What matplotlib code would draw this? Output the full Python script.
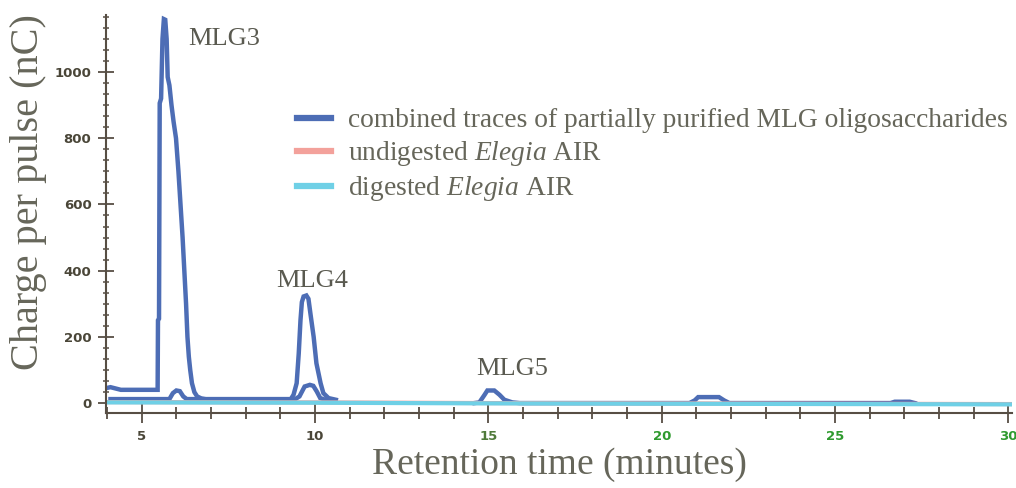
import matplotlib
matplotlib.use("Agg")
import matplotlib.pyplot as plt
from matplotlib.ticker import MultipleLocator

plt.rcParams["mathtext.fontset"] = "custom"
plt.rcParams["mathtext.rm"] = "Liberation Serif"
plt.rcParams["mathtext.it"] = "Liberation Serif:italic"

# Retention time (min) and detector response (nC) for each trace
mlg3_time = [3.97, 4.1, 4.4, 5.46, 5.47, 5.50, 5.52, 5.56, 5.60, 5.64, 5.68, 5.72,
             5.75, 5.80, 5.86, 5.92, 5.99, 6.06, 6.12, 6.18, 6.23, 6.28, 6.32,
             6.36, 6.40, 6.45, 6.52, 6.60, 6.72, 6.88, 7.05, 9.40, 9.55, 9.70,
             9.85, 9.95, 10.05, 10.15, 10.30, 10.50]
mlg3_resp = [45, 48, 40, 40, 250, 255, 906, 920, 1100, 1160, 1158, 1100,
             985, 960, 900, 850, 800, 700, 600, 500, 400, 300, 200,
             140, 100, 60, 33, 20, 14, 11, 10, 10, 20, 50,
             55, 52, 35, 15, 10, 9]

mlg4_time = [4.1, 5.8, 5.9, 6.0, 6.1, 6.2, 6.3, 9.30, 9.38, 9.47, 9.53, 9.58,
             9.62, 9.67, 9.75, 9.81, 9.87, 9.96, 10.04, 10.16, 10.24, 10.39, 10.6]
mlg4_resp = [12, 12, 30, 38, 36, 20, 12, 12, 25, 60, 150, 250,
             305, 322, 325, 315, 268, 200, 120, 60, 30, 15, 10]

mlg5_time = [14.6, 14.74, 14.89, 14.97, 15.17, 15.32, 15.46, 15.69, 15.9,
             20.8, 20.95, 21.05, 21.65, 21.8, 21.95, 26.6, 26.72, 27.15, 27.3]
mlg5_resp = [0, 2, 25, 38, 38, 25, 10, 2, 0,
             0, 8, 18, 18, 8, 0, 0, 4, 4, 0]

air_time = [3.97, 10.0, 15.0, 20.0, 25.0, 30.1]
undigested_resp = [3, 2, 0, -1, -2, -3]
digested_resp = [2, 1, -1, -2, -3, -4]

x_ticks = [5, 10, 15, 20, 25, 30]
x_tick_colors = ["#4a4638", "#4a4638", "#4f7a3a", "#2f9a2f", "#2f9a2f", "#2f9a2f"]
y_ticks = [0, 200, 400, 600, 800, 1000]

peak_names = ["MLG3", "MLG4", "MLG5"]
peak_label_x = [6.35, 8.87, 14.66]
peak_label_y = [1082, 350, 85]

BLUE = "#4d6db5"
RED = "#f3a19b"
CYAN = "#6fd0e6"
AXIS = "#574e44"
TEXT = "#66665a"

fig = plt.figure(figsize=(10.16, 4.88), dpi=100)
ax = fig.add_axes([0.1043, 0.1537, 0.8917, 0.8153])

lw = 3.2
h_comb, = ax.plot(mlg3_time, mlg3_resp, color=BLUE, lw=lw, solid_joinstyle="miter")
ax.plot(mlg4_time, mlg4_resp, color=BLUE, lw=lw, solid_joinstyle="miter")
ax.plot(mlg5_time, mlg5_resp, color=BLUE, lw=lw, solid_joinstyle="miter")
h_und, = ax.plot(air_time, undigested_resp, color=RED, lw=3.0)
h_dig, = ax.plot(air_time, digested_resp, color=CYAN, lw=3.0)

ax.set_xlim(3.97, 30.1)
ax.set_ylim(-30, 1172)

for side in ("top", "right"):
    ax.spines[side].set_visible(False)
for side in ("left", "bottom"):
    ax.spines[side].set_color(AXIS)
    ax.spines[side].set_linewidth(1.5)

ax.set_xticks(x_ticks)
ax.xaxis.set_minor_locator(MultipleLocator(1))
ax.set_yticks(y_ticks)
ax.yaxis.set_minor_locator(MultipleLocator(200 / 6))

ax.tick_params(axis="x", which="major", direction="inout", length=15, width=1.3,
               color=AXIS, pad=4.5, labelsize=9.5)
ax.tick_params(axis="x", which="minor", direction="inout", length=9, width=1.3,
               color=AXIS)
ax.tick_params(axis="y", which="major", direction="inout", length=11, width=1.3,
               color=AXIS, pad=5, labelsize=9.5, labelcolor="#4a4638")
ax.tick_params(axis="y", which="minor", direction="inout", length=5, width=1.1,
               color=AXIS)

for lab in ax.get_yticklabels():
    lab.set_fontweight("bold")
for lab, col in zip(ax.get_xticklabels(), x_tick_colors):
    lab.set_fontweight("bold")
    lab.set_color(col)

ax.set_xlabel("Retention time (minutes)", fontsize=27, family="Liberation Serif",
              color=TEXT, va="center")
ax.xaxis.set_label_coords(0.5, -0.131)
ax.set_ylabel("Charge per pulse (nC)", fontsize=29, family="Liberation Serif",
              color=TEXT, va="center")
ax.yaxis.set_label_coords(-0.085, 0.555)

for name, px, py in zip(peak_names, peak_label_x, peak_label_y):
    ax.text(px, py, name, fontsize=19, family="Liberation Serif", color="#5a5a50",
            ha="left", va="baseline")

leg = ax.legend(
    [h_comb, h_und, h_dig],
    ["combined traces of partially purified MLG oligosaccharides",
     r"undigested $\mathit{Elegia}$ AIR",
     r"digested $\mathit{Elegia}$ AIR"],
    loc="upper left", bbox_to_anchor=(297 / 1016, 1 - 108 / 488),
    bbox_transform=fig.transFigure, frameon=False, borderpad=0, borderaxespad=0,
    handlelength=1.25, handletextpad=0.6, labelspacing=0.22,
    prop={"family": "Liberation Serif", "size": 19.8},
)
for line in leg.get_lines():
    line.set_linewidth(4.5)
for t in leg.get_texts():
    t.set_color(TEXT)

fig.savefig("out.png", dpi=100)
